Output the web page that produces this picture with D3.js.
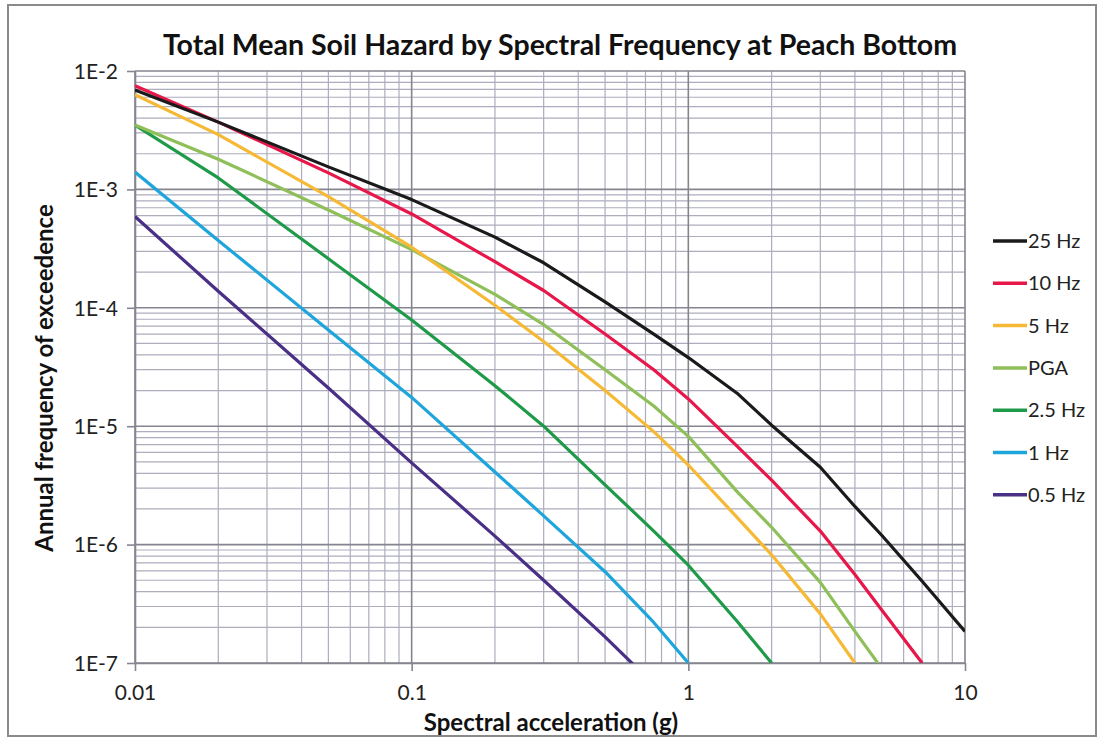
<!DOCTYPE html>
<html><head><meta charset="utf-8">
<script src="https://cdn.jsdelivr.net/npm/d3@7"></script>
<style>
body{margin:0;background:#fff;}
svg{display:block;}
</style></head>
<body>
<svg id="chart" width="1102" height="740"></svg>
<script>
// ---- data ----
const accel = [0.01, 0.02, 0.05, 0.1, 0.2, 0.3, 0.5, 0.75, 1, 1.5, 2, 3, 4, 5, 7, 10];
const seriesNames = ["25 Hz", "10 Hz", "5 Hz", "PGA", "2.5 Hz", "1 Hz", "0.5 Hz"];
const seriesColors = ["#1a1a1a", "#e8174a", "#f5b935", "#8fbf58", "#1e9a48", "#1ea6dc", "#4a2f86"];
const hz25  = [6.9e-3, 3.7e-3, 1.55e-3, 8.2e-4, 3.95e-4, 2.4e-4, 1.12e-4, 6.0e-5, 3.8e-5, 1.9e-5, 1.02e-5, 4.5e-6, 2.1e-6, 1.2e-6, 4.9e-7, 1.85e-7];
const hz10  = [7.5e-3, 3.7e-3, 1.38e-3, 6.2e-4, 2.45e-4, 1.4e-4, 6.0e-5, 3.0e-5, 1.7e-5, 6.8e-6, 3.5e-6, 1.3e-6, 5.6e-7, 2.8e-7, 1.0e-7, null];
const hz5   = [6.3e-3, 2.9e-3, 8.7e-4, 3.25e-4, 1.05e-4, 5.2e-5, 2.0e-5, 9.0e-6, 4.7e-6, 1.7e-6, 8.2e-7, 2.6e-7, 1.0e-7, null, null, null];
const pga   = [3.5e-3, 1.8e-3, 6.7e-4, 3.1e-4, 1.3e-4, 7.2e-5, 3.0e-5, 1.48e-5, 8.2e-6, 2.8e-6, 1.4e-6, 4.8e-7, 1.85e-7, 9.0e-8, null, null];
const hz2_5 = [3.5e-3, 1.25e-3, 2.6e-4, 7.9e-5, 2.2e-5, 1.0e-5, 3.2e-6, 1.3e-6, 6.7e-7, 2.25e-7, 1.0e-7, null, null, null, null, null];
const hz1   = [1.4e-3, 3.7e-4, 6.5e-5, 1.75e-5, 4.1e-6, 1.75e-6, 5.9e-7, 2.2e-7, 1.0e-7, null, null, null, null, null, null, null];
const hz0_5 = [5.9e-4, 1.38e-4, 2.1e-5, 4.9e-6, 1.18e-6, 5.0e-7, 1.66e-7, 6.6e-8, null, null, null, null, null, null, null, null];
const xTickLabels = ["0.01", "0.1", "1", "10"];
const yTickLabels = ["1E-2", "1E-3", "1E-4", "1E-5", "1E-6", "1E-7"];
const titleText = "Total Mean Soil Hazard by Spectral Frequency at Peach Bottom";
const xTitle = "Spectral acceleration (g)";
const yTitle = "Annual frequency of exceedence";

const seriesValues = [hz25, hz10, hz5, pga, hz2_5, hz1, hz0_5];

// ---- layout ----
const svg = d3.select("#chart");
const m = {left:135, right:965, top:71, bottom:663};
const x = d3.scaleLog().domain([0.01, 10]).range([m.left, m.right]);
const y = d3.scaleLog().domain([1e-7, 1e-2]).range([m.bottom, m.top]);
const font = "Lato, 'Open Sans', sans-serif";

// outer frame
svg.append("rect").attr("x", 8).attr("y", 5).attr("width", 1088).attr("height", 731)
  .attr("fill", "#fff").attr("stroke", "#8a8a8a").attr("stroke-width", 2);

// grid
const xMajor = [0.01, 0.1, 1, 10];
const yMajor = [1e-2, 1e-3, 1e-4, 1e-5, 1e-6, 1e-7];
const xMinor = [], yMinor = [];
[0.01, 0.1, 1].forEach(d => { for (let k = 2; k <= 9; k++) xMinor.push(d * k); });
[1e-7, 1e-6, 1e-5, 1e-4, 1e-3].forEach(d => { for (let k = 2; k <= 9; k++) yMinor.push(d * k); });

const g = svg.append("g");
g.selectAll(".xmin").data(xMinor).join("line")
  .attr("x1", d => x(d)).attr("x2", d => x(d)).attr("y1", m.top).attr("y2", m.bottom)
  .attr("stroke", "#adadbd").attr("stroke-width", 1.2);
g.selectAll(".ymin").data(yMinor).join("line")
  .attr("y1", d => y(d)).attr("y2", d => y(d)).attr("x1", m.left).attr("x2", m.right)
  .attr("stroke", "#adadbd").attr("stroke-width", 1.2);
g.selectAll(".xmaj").data(xMajor).join("line")
  .attr("x1", d => x(d)).attr("x2", d => x(d)).attr("y1", m.top).attr("y2", m.bottom)
  .attr("stroke", "#85858f").attr("stroke-width", 1.6);
g.selectAll(".ymaj").data(yMajor).join("line")
  .attr("y1", d => y(d)).attr("y2", d => y(d)).attr("x1", m.left).attr("x2", m.right)
  .attr("stroke", "#85858f").attr("stroke-width", 1.6);

// axes
const xAxis = d3.axisBottom(x).tickValues(xMajor).tickFormat((d, i) => xTickLabels[i]).tickSize(8).tickSizeOuter(0);
const yAxis = d3.axisLeft(y).tickValues(yMajor).tickFormat((d, i) => yTickLabels[i]).tickSize(8).tickSizeOuter(0);
const xa = svg.append("g").attr("transform", `translate(0,${m.bottom})`).call(xAxis);
const ya = svg.append("g").attr("transform", `translate(${m.left},0)`).call(yAxis);
[xa, ya].forEach(a => {
  a.select(".domain").attr("stroke", "#85858f").attr("stroke-width", 1.6);
  a.selectAll(".tick line").attr("stroke", "#85858f").attr("stroke-width", 1.6);
  a.selectAll("text").attr("font-family", font).attr("font-size", 21).attr("fill", "#222");
});
xa.selectAll("text").attr("dy", "0").attr("y", 37);
ya.selectAll("text").attr("x", -17).attr("dy", "0.35em");

// clip
svg.append("clipPath").attr("id", "clip").append("rect")
  .attr("x", m.left).attr("y", m.top).attr("width", m.right - m.left).attr("height", m.bottom - m.top);

// lines
const line = d3.line().defined(d => d[1] != null)
  .x(d => x(d[0])).y(d => y(d[1]));
const lg = svg.append("g").attr("clip-path", "url(#clip)");
seriesValues.slice().reverse().forEach((vals, ri) => {
  const i = seriesValues.length - 1 - ri;
  lg.append("path").datum(accel.map((a, j) => [a, vals[j]]))
    .attr("d", line).attr("fill", "none").attr("stroke", seriesColors[i])
    .attr("stroke-width", 3.2).attr("stroke-linejoin", "round");
});

// title
svg.append("text").attr("x", 560).attr("y", 55).attr("text-anchor", "middle")
  .attr("font-family", font).attr("font-weight", "bold").attr("font-size", 28.5).attr("fill", "#111")
  .text(titleText);
// axis titles
svg.append("text").attr("x", 551).attr("y", 731).attr("text-anchor", "middle")
  .attr("font-family", font).attr("font-weight", "bold").attr("font-size", 24).attr("fill", "#111")
  .text(xTitle);
svg.append("text").attr("transform", "translate(53,378) rotate(-90)").attr("text-anchor", "middle")
  .attr("font-family", font).attr("font-weight", "bold").attr("font-size", 24).attr("fill", "#111")
  .text(yTitle);

// legend
const leg = svg.append("g");
seriesNames.forEach((n, i) => {
  const yy = 241 + i * 42.3;
  leg.append("line").attr("x1", 993).attr("x2", 1027).attr("y1", yy).attr("y2", yy)
    .attr("stroke", seriesColors[i]).attr("stroke-width", 3.5);
  leg.append("text").attr("x", 1028).attr("y", yy).attr("dy", "0.35em")
    .attr("font-family", font).attr("font-size", 20).attr("fill", "#222").text(n);
});
</script>
</body></html>
